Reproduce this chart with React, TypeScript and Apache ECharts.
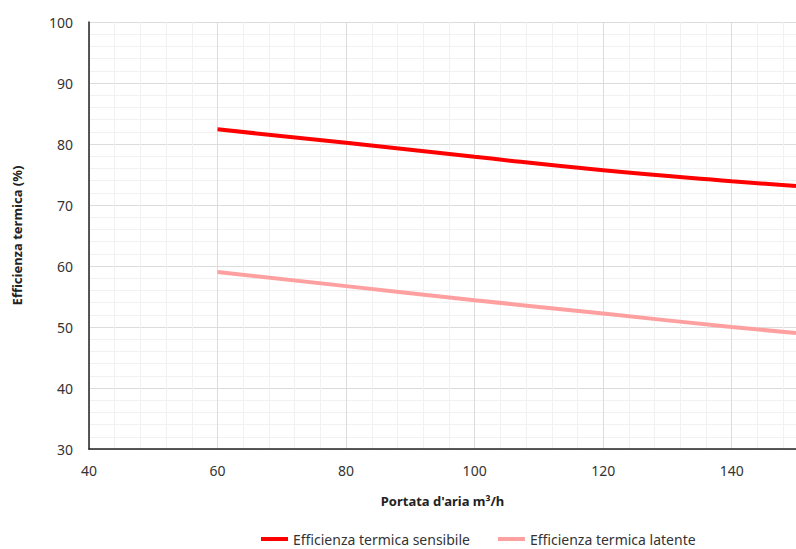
import React, { useEffect, useRef } from "react";
import * as echarts from "echarts";

const xValues = [60, 80, 100, 120, 140, 150];
const sensibile = [82.4, 80.2, 77.9, 75.7, 73.9, 73.1];
const latente = [59.0, 56.7, 54.4, 52.2, 50.0, 49.0];
const seriesNames = ["Efficienza termica sensibile", "Efficienza termica latente"];
const xAxisName = "Portata d'aria m³/h";
const yAxisName = "Efficienza termica (%)";

const FONT = "'Noto Sans', Lato, sans-serif";

export default function App() {
  const ref = useRef<HTMLDivElement>(null);
  useEffect(() => {
    if (!ref.current) return;
    const chart = echarts.init(ref.current, undefined, { renderer: "svg" });
    const pair = (ys: number[]) => xValues.map((x, i) => [x, ys[i]]);
    chart.setOption({
      animation: false,
      textStyle: { fontFamily: FONT },
      grid: { left: 89, top: 22, right: 0, bottom: 100, containLabel: false, outerBoundsMode: "none" },
      legend: {
        left: 261,
        top: 530,
        itemWidth: 27,
        itemHeight: 4,
        itemGap: 28,
        icon: "rect",
        padding: 0,
        textStyle: { fontFamily: FONT, fontSize: 14, color: "#333", lineHeight: 18 },
        data: seriesNames,
      },
      xAxis: [
        {
          type: "value",
          position: "bottom",
          min: 40,
          max: 150,
          interval: 4,
          axisLine: { show: false },
          axisTick: { show: false },
          axisLabel: { show: false },
          splitLine: { show: true, lineStyle: { color: "#f1f1f1", width: 1 } },
        },
        {
          type: "value",
          position: "bottom",
          min: 40,
          max: 150,
          interval: 20,
          name: xAxisName,
          nameLocation: "middle",
          nameGap: 45,
          nameTextStyle: { fontFamily: FONT, fontSize: 13, fontWeight: "bold", color: "#222" },
          axisLine: { show: true, onZero: false, lineStyle: { color: "#222", width: 1.5 } },
          axisTick: { show: false },
          axisLabel: { margin: 14, fontSize: 14, color: "#333", fontFamily: FONT, showMaxLabel: false },
          splitLine: { show: true, lineStyle: { color: "#dcdcdc", width: 1 } },
        },
      ],
      yAxis: {
        type: "value",
        min: 30,
        max: 100,
        interval: 10,
        name: yAxisName,
        nameLocation: "middle",
        nameGap: 66,
        nameTextStyle: { fontFamily: FONT, fontSize: 13, fontWeight: "bold", color: "#222" },
        axisLine: { show: true, lineStyle: { color: "#222", width: 1.5 } },
        axisTick: { show: false },
        axisLabel: { margin: 16, fontSize: 14, color: "#333", fontFamily: FONT },
        splitLine: { show: true, lineStyle: { color: "#dcdcdc", width: 1 } },
        minorTick: { show: false, splitNumber: 5 },
        minorSplitLine: { show: true, lineStyle: { color: "#f1f1f1", width: 1 } },
      },
      series: [
        {
          name: seriesNames[0],
          type: "line",
          xAxisIndex: 1,
          data: pair(sensibile),
          smooth: true,
          showSymbol: false,
          symbol: "none",
          lineStyle: { color: "#ff0000", width: 4 },
          itemStyle: { color: "#ff0000" },
        },
        {
          name: seriesNames[1],
          type: "line",
          xAxisIndex: 1,
          data: pair(latente),
          smooth: true,
          showSymbol: false,
          symbol: "none",
          lineStyle: { color: "#ffa0a0", width: 4 },
          itemStyle: { color: "#ffa0a0" },
        },
      ],
    });
    return () => chart.dispose();
  }, []);
  return <div ref={ref} style={{ width: 796, height: 549, position: "absolute", left: 0, top: 0 }} />;
}
